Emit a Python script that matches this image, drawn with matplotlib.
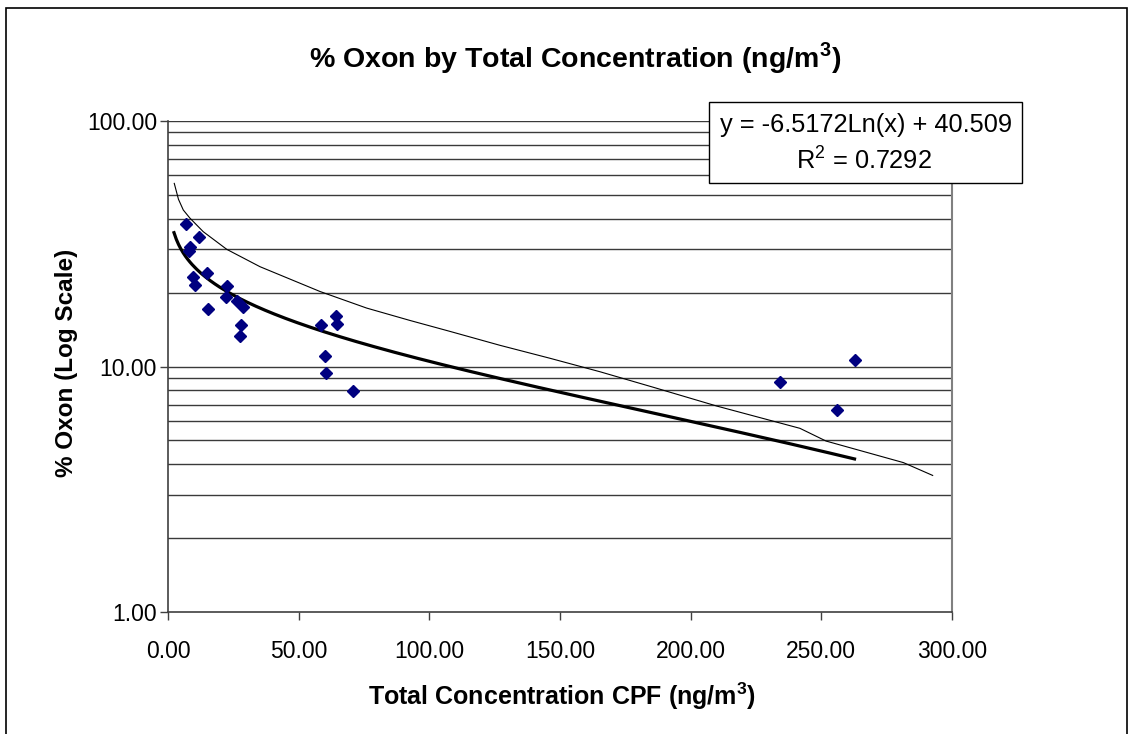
import numpy as np
import matplotlib
matplotlib.use("Agg")
import matplotlib.pyplot as plt
from matplotlib.patches import Rectangle

plt.rcParams['font.family'] = ['Liberation Sans', 'DejaVu Sans']
plt.rcParams['mathtext.fontset'] = 'custom'
plt.rcParams['mathtext.rm'] = 'Liberation Sans'
plt.rcParams['mathtext.bf'] = 'Liberation Sans:bold'

# ---- data ----
conc_x = [6.9, 11.9, 8.4, 8.0, 14.8, 9.7, 10.5, 22.7, 22.1, 15.2, 26.3, 28.8,
          28.1, 27.7, 58.6, 64.2, 64.8, 60.0, 60.6, 70.7, 262.7, 234.2, 255.9]
oxon_pct = [38.0, 33.8, 30.8, 29.6, 24.0, 23.1, 21.5, 21.3, 19.2, 17.1, 18.5, 17.4,
            14.8, 13.3, 14.8, 16.1, 14.9, 11.0, 9.4, 7.97, 10.6, 8.67, 6.65]

# trend line (logarithmic) coefficients shown on the chart
trend_slope = -6.5172
trend_intercept = 40.509
trend_r2 = 0.7292
trend_range = [2.3, 262.7]

# thin reference curve, read point by point
upper_x = [2.4, 4.0, 5.85, 8.4, 13.5, 22.5, 35.2, 58.2, 76.0, 92.6, 107.9, 127.0, 146.2,
           165.3, 185.7, 210.0, 241.8, 251.8, 281.4, 292.6]
upper_y = [55.7, 48.0, 43.4, 40.2, 35.4, 30.0, 25.5, 20.2, 17.3, 15.4, 13.9, 12.2, 10.8,
           9.52, 8.23, 6.90, 5.60, 4.97, 4.06, 3.60]

x_ticks = [0, 50, 100, 150, 200, 250, 300]
y_ticks = [1, 10, 100]

title = r"% Oxon by Total Concentration (ng/m$^{\mathbf{3}}$)"
xlabel = r"Total Concentration CPF (ng/m$^{\mathbf{3}}$)"
ylabel = "% Oxon (Log Scale)"

W, H = 1133, 734
fig = plt.figure(figsize=(W / 100, H / 100), dpi=100)
ax = fig.add_axes([168 / W, 1 - 612 / H, (952 - 168) / W, (612 - 121) / H])

ax.set_yscale('log')
ax.set_xlim(0, 300)
ax.set_ylim(1, 100)

# gridlines at every log step
grid_vals = [m * d for d in (1, 10) for m in range(2, 11)]
for g in grid_vals:
    ax.axhline(g, color='#3a3a3a', lw=1.0, zorder=1)

# thin curve
ax.plot(upper_x, upper_y, color='black', lw=0.8, zorder=2)

# trend line
tx = np.linspace(trend_range[0], trend_range[1], 300)
ty = trend_slope * np.log(tx) + trend_intercept
ax.plot(tx, ty, color='black', lw=2.3, zorder=3)

# data points
ax.plot(conc_x, oxon_pct, linestyle='none', marker='D', ms=6.2,
        color='#000080', mec='#000080', zorder=4)

ax.set_xticks(x_ticks)
ax.set_xticklabels([f"{v:.2f}" for v in x_ticks])
ax.set_yticks(y_ticks)
ax.set_yticklabels([f"{v:.2f}" for v in y_ticks])
ax.yaxis.set_minor_locator(matplotlib.ticker.NullLocator())
ax.tick_params(axis='x', direction='out', length=6, width=1, color='#404040',
               labelsize=16.5, pad=14)
ax.tick_params(axis='y', direction='out', length=6, width=1, color='#404040',
               labelsize=16.5, pad=2)

ax.spines['top'].set_visible(False)
ax.spines['right'].set_color('#808080')
ax.spines['right'].set_linewidth(1.5)
ax.spines['left'].set_color('#404040')
ax.spines['bottom'].set_color('#404040')
ax.spines['left'].set_linewidth(1.2)
ax.spines['bottom'].set_linewidth(1.2)

fig.text(575 / W, 1 - 58 / H, title, ha='center', va='center',
         fontsize=20.5, fontweight='bold')
fig.text(562 / W, 1 - 696 / H, xlabel, ha='center', va='center',
         fontsize=18, fontweight='bold')
fig.text(66 / W, 1 - 363 / H, ylabel, ha='center', va='center',
         fontsize=17.5, fontweight='bold', rotation=90)

# equation box
fig.patches.append(Rectangle((709 / W, 1 - 183 / H), (1022 - 709) / W, (183 - 102) / H,
                             transform=fig.transFigure, facecolor='white',
                             edgecolor='black', lw=1, zorder=5))
fig.text(866 / W, 1 - 125 / H,
         f"y = {trend_slope:.4f}Ln(x) + {trend_intercept:.3f}",
         ha='center', va='center', fontsize=18.3, zorder=6)
fig.text(864 / W, 1 - 161 / H, r"R$^{2}$" + f" = {trend_r2:.4f}",
         ha='center', va='center', fontsize=18.3, zorder=6)

# outer chart frame
fig.patches.append(Rectangle((6 / W, -0.05), (1127 - 6) / W, 1.05 - 8 / H,
                             transform=fig.transFigure, facecolor='none',
                             edgecolor='black', lw=1.2))

fig.savefig('out.png', dpi=100)
